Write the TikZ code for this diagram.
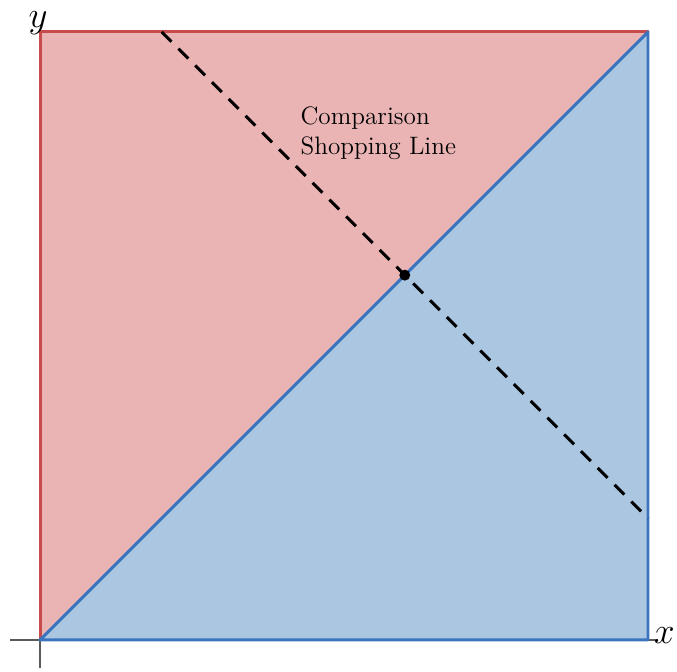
\documentclass[tikz,border=0pt]{standalone}
\usepackage{amsmath,amssymb}
\usepackage{tikz}
\usetikzlibrary{calc}
\definecolor{redfill}{RGB}{234,180,180}
\definecolor{rededge}{RGB}{200,75,75}
\definecolor{bluefill}{RGB}{171,198,225}
\definecolor{blueedge}{RGB}{58,116,190}
\definecolor{axisgray}{RGB}{90,90,90}
\begin{document}
\begin{tikzpicture}[x=1cm,y=1cm,
    axisline/.style={axisgray,line width=0.9pt},
    edge/.style={line width=1.4pt,line cap=round,line join=round},
    shopline/.style={black,line width=1.4pt,dash pattern=on 6.5pt off 4.6pt}]
        % сторона квадрата 10, лінія x+y=12
        \def\side{10}
        \useasboundingbox (-0.658,-0.526) rectangle (10.477,10.526);

        \coordinate (O) at (0,0);
        \coordinate (X) at (\side,0);
        \coordinate (T) at (\side,\side);
        \coordinate (Y) at (0,\side);

        \coordinate (P) at (2,\side);
        \coordinate (Q) at (\side,2);
        \coordinate (E) at (6,6); % перетин з діагоналлю

        \fill[redfill] (O) -- (Y) -- (T) -- cycle;
        \fill[bluefill] (O) -- (X) -- (T) -- cycle;

        % осі
        \draw[axisline] (-0.49,0) -- (10.16,0) coordinate (xend);
        \draw[axisline] (0,-0.46) -- (0,10.05) coordinate (yend);

        \draw[edge,rededge] (O) -- (Y) -- (T);
        \draw[edge,blueedge] (O) -- (X) -- (T) -- cycle;

        \draw[shopline] (P) -- (Q);
        \fill (E) circle (0.09);

        \node[inner sep=0pt,font=\fontsize{17}{19}\selectfont] (ylab) at (-0.03,10.15) {$y$};
        \node[inner sep=0pt,font=\fontsize{17}{19}\selectfont] (xlab) at (10.27,0.07) {$x$};
        \node[anchor=north west,align=left,inner sep=0pt,font=\fontsize{11.8}{14}\selectfont] (lab) at (4.28,8.78) {Comparison\\Shopping Line};
    \end{tikzpicture}
\end{document}
